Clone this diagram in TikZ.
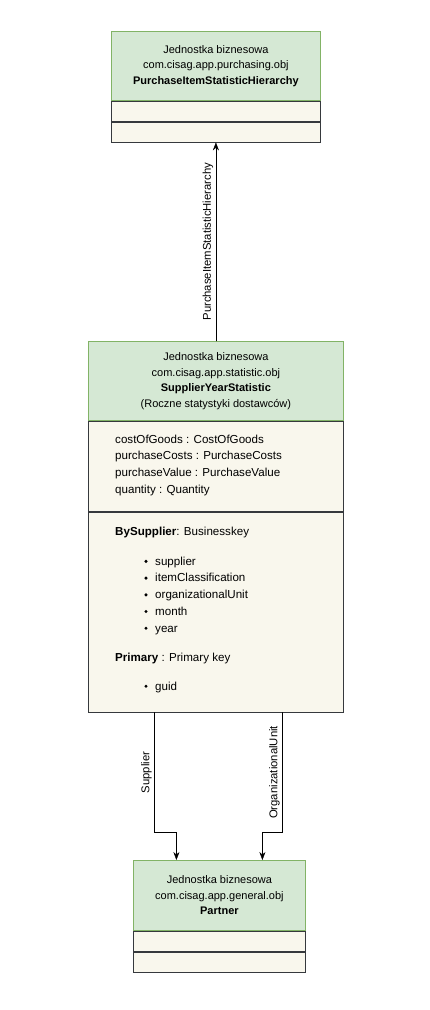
\documentclass[tikz,border=0pt]{standalone}
\usepackage{fontspec}
\setmainfont{Liberation Sans}
\usetikzlibrary{arrows.meta,positioning}
\definecolor{hdrFill}{HTML}{D5E8D4}
\definecolor{hdrLine}{HTML}{82B366}
\definecolor{rowFill}{HTML}{F9F7ED}
\definecolor{rowLine}{HTML}{36393D}

\tikzset{
  hdr/.style={draw=hdrLine, fill=hdrFill, align=center, inner sep=0pt, line width=0.8pt,
    font=\fontsize{11}{15.5}\selectfont},
  row/.style={draw=rowLine, fill=rowFill, inner sep=0pt, line width=0.8pt},
  attr/.style={anchor=base west, inner sep=0pt, font=\fontsize{11.6}{13}\selectfont},
  lbl/.style={rotate=90, anchor=south, inner sep=2.5pt, font=\fontsize{11.3}{12}\selectfont},
}

\begin{document}
\begin{tikzpicture}[x=1pt, y=-1pt, >={Stealth[length=8pt,width=6pt]}, line cap=round]
\useasboundingbox (0,0) rectangle (430,1010);
% PurchaseItemStatisticHierarchy
\node[hdr, anchor=north west, minimum width=209pt, minimum height=69pt] (phdr) at (111,31)
  {Jednostka biznesowa\\com.cisag.app.purchasing.obj\\\textbf{PurchaseItemStatisticHierarchy}};
\node[row, below=0pt of phdr, minimum width=209pt, minimum height=20pt] (prow1) {};
\node[row, below=0pt of prow1, minimum width=209pt, minimum height=20pt] (prow2) {};
% SupplierYearStatistic
\node[hdr, anchor=north west, minimum width=255pt, minimum height=79pt] (mhdr) at (88,341)
  {Jednostka biznesowa\\com.cisag.app.statistic.obj\\\textbf{SupplierYearStatistic}\\(Roczne statystyki dostawców)};
\node[row, below=0pt of mhdr, minimum width=255pt, minimum height=90pt] (mattr) {};
\node[row, below=0pt of mattr, minimum width=255pt, minimum height=200pt] (mkeys) {};
\foreach \txt [count=\i] in {costOfGoods : CostOfGoods, purchaseCosts : PurchaseCosts,
    purchaseValue : PurchaseValue, quantity : Quantity}
  \node[attr] (a\i) at (115,{426.5+16.7*\i}) {\txt};
\node[attr] (bskey) at (115,535) {\textbf{BySupplier}: Businesskey};
\foreach \txt [count=\i] in {supplier, itemClassification, organizationalUnit, month, year}
  \node[attr] (k\i) at (155,{548.5+16.7*\i}) {\txt};
\foreach \i in {1,...,5}
  \fill ([xshift=-9pt, yshift=3.8pt]k\i.base west) circle (1.7pt);
\node[attr] (pkey) at (115,661) {\textbf{Primary} : Primary key};
\node[attr] (guid) at (155,690) {guid};
\fill ([xshift=-9pt, yshift=3.8pt]guid.base west) circle (1.7pt);
% Partner
\node[hdr, anchor=north west, minimum width=172pt, minimum height=70pt] (bhdr) at (133,860)
  {Jednostka biznesowa\\com.cisag.app.general.obj\\\textbf{Partner}};
\node[row, below=0pt of bhdr, minimum width=172pt, minimum height=20pt] (brow1) {};
\node[row, below=0pt of brow1, minimum width=172pt, minimum height=20pt] (brow2) {};
% connectors
\draw[->] (mhdr.north) -- node[lbl, midway] {PurchaseItemStatisticHierarchy} (prow2.south);
\draw[->] ([xshift=-61.5pt]mkeys.south) -- node[lbl, midway] {Supplier} ++(0,120)
  -| ([xshift=-43pt]bhdr.north);
\draw[->] ([xshift=66.5pt]mkeys.south) -- node[lbl, midway] {OrganizationalUnit} ++(0,120)
  -| ([xshift=43pt]bhdr.north);
\end{tikzpicture}
\end{document}
